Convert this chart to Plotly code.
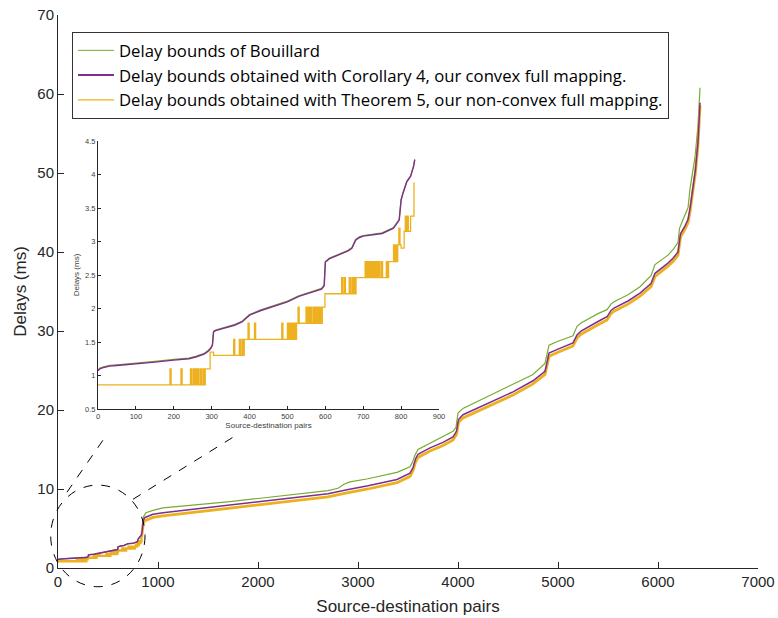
import plotly.graph_objects as go

# ---------------- data ----------------
# Delay bounds, Corollary 4 (convex full mapping) - purple
purple_x = [0, 5, 15, 30, 50, 100, 150, 200, 240, 260, 280, 290, 297, 302, 305, 310, 330, 360, 380, 400,
            430, 460, 500, 530, 560, 590, 597, 600, 610, 630, 660, 670, 680, 690, 700, 750, 780, 795, 800,
            805, 815, 825, 830, 833, 836,
            845, 852, 870, 950, 1050, 1400, 1720, 2000, 2390, 2700, 2890, 3100, 3390, 3520, 3550, 3575,
            3600, 3720, 3850, 3950, 3985, 4005, 4050, 4300, 4550, 4750, 4870, 4890, 4910, 5000, 5150, 5190,
            5230, 5400, 5490, 5530, 5560, 5700, 5820, 5930, 5950, 5970, 6100, 6150, 6200, 6225, 6270, 6300,
            6320, 6345, 6375, 6400, 6420]
purple_y = [1.07, 1.10, 1.12, 1.14, 1.15, 1.17, 1.20, 1.23, 1.25, 1.28, 1.32, 1.36, 1.40, 1.45, 1.65, 1.67,
            1.70, 1.75, 1.80, 1.90, 1.97, 2.03, 2.10, 2.18, 2.23, 2.29, 2.34, 2.69, 2.74, 2.79, 2.86, 2.90,
            3.02, 3.06, 3.08, 3.12, 3.20, 3.32, 3.62, 3.72, 3.89, 3.97, 4.05, 4.12, 4.22,
            5.0, 6.0, 6.4, 6.8, 7.0, 7.5, 8.0, 8.4, 9.0, 9.4, 9.9, 10.4, 11.2, 12.0, 12.7, 13.8,
            14.4, 15.2, 15.9, 16.6, 17.3, 18.8, 19.4, 20.8, 22.3, 23.7, 24.9, 26.0, 27.2, 27.7, 28.5, 29.5,
            30.0, 31.2, 31.8, 32.6, 32.9, 33.8, 34.8, 36.0, 36.6, 37.3, 38.6, 39.2, 40.0, 42.3, 43.3, 44.1,
            45.5, 47.6, 50.5, 54.0, 58.9]

# Delay bounds of Bouillard - green
green_x = [0, 5, 15, 30, 50, 100, 150, 200, 240, 260, 280, 290, 297, 302, 305, 310, 330, 360, 380, 400,
           430, 460, 500, 530, 560, 590, 597, 600, 610, 630, 660, 670, 680, 690, 700, 750, 780, 795, 800,
           805, 815, 825, 830, 833, 836,
           845, 855, 880, 950, 1050, 1400, 1720, 2000, 2390, 2700, 2800, 2860, 2920, 3100, 3390, 3520,
           3545, 3570, 3600, 3720, 3850, 3950, 3980, 4000, 4050, 4300, 4550, 4750, 4870, 4890, 4910, 5000,
           5150, 5190, 5230, 5400, 5490, 5530, 5560, 5700, 5820, 5930, 5950, 5970, 6100, 6150, 6200, 6215,
           6260, 6300, 6320, 6340, 6370, 6400, 6420]
green_y = [1.08, 1.11, 1.13, 1.15, 1.16, 1.18, 1.21, 1.24, 1.26, 1.29, 1.33, 1.37, 1.41, 1.46, 1.66, 1.68,
           1.71, 1.76, 1.81, 1.91, 1.98, 2.04, 2.11, 2.19, 2.24, 2.30, 2.35, 2.70, 2.75, 2.80, 2.87, 2.91,
           3.03, 3.07, 3.09, 3.13, 3.21, 3.33, 3.63, 3.73, 3.90, 3.98, 4.06, 4.13, 4.23,
           5.5, 6.5, 7.0, 7.3, 7.6, 8.0, 8.4, 8.8, 9.4, 9.8, 10.1, 10.6, 10.9, 11.3, 12.1, 12.8,
           13.4, 14.3, 15.0, 15.8, 16.6, 17.3, 17.8, 19.6, 20.2, 21.7, 23.2, 24.5, 25.9, 27.3, 28.2, 28.7,
           29.4, 30.6, 31.0, 32.2, 32.7, 33.4, 33.7, 34.6, 35.6, 37.0, 37.8, 38.4, 39.6, 40.3, 41.2, 43.0,
           44.4, 45.6, 48.0, 49.5, 52.0, 56.0, 60.8]

# Delay bounds, Theorem 5 (non-convex full mapping) - orange
# first part: step-wise values (x <= 836); second part: smooth continuation
orange_step_x = [0, 190, 193, 219, 222, 244, 247, 251, 254, 257, 260, 263, 266, 270, 273, 277, 280, 283, 296,
                 305, 358, 361, 373, 376, 380, 383, 386, 396, 399, 413, 416, 485, 488, 500, 503, 506, 509, 512,
                 515, 518, 521, 524, 528, 531, 549, 552, 555, 558, 561, 564, 568, 571, 574, 577, 580, 583, 586,
                 589, 592, 599, 643, 646, 650, 653, 663, 666, 670, 673, 676, 679, 681, 705, 708, 711, 714, 717,
                 720, 723, 726, 729, 732, 735, 738, 741, 744, 748, 751, 761, 764, 767, 780, 783, 786, 789, 791,
                 794, 797, 800, 808, 811, 813, 816, 819, 825, 834, 836]
orange_step_y = [0.86, 1.10, 0.86, 1.10, 0.86, 1.10, 0.86, 1.10, 0.86, 1.10, 0.86, 1.10, 0.86, 1.10, 0.86, 1.10,
                 0.86, 1.10, 1.35, 1.30, 1.54, 1.30, 1.54, 1.30, 1.54, 1.30, 1.54, 1.78, 1.54, 1.78, 1.54, 1.78,
                 1.54, 1.78, 1.54, 1.78, 1.54, 1.78, 1.54, 1.78, 1.54, 1.78, 2.02, 1.78, 2.02, 1.78, 2.02, 1.78,
                 2.02, 1.78, 2.02, 1.78, 2.02, 1.78, 2.02, 1.78, 2.02, 1.78, 2.02, 2.22, 2.46, 2.22, 2.46, 2.22,
                 2.46, 2.22, 2.46, 2.22, 2.46, 2.22, 2.46, 2.70, 2.46, 2.70, 2.46, 2.70, 2.46, 2.70, 2.46, 2.70,
                 2.46, 2.70, 2.46, 2.70, 2.46, 2.70, 2.46, 2.70, 2.46, 2.70, 2.95, 2.70, 2.95, 2.70, 2.95, 3.20,
                 2.95, 2.90, 3.15, 3.38, 3.15, 3.38, 3.15, 3.38, 3.87, 3.87]
orange_rest_x = [836, 845, 852, 870, 950, 1050, 1400, 1720, 2000, 2390, 2700, 2890, 3100, 3390, 3520, 3550,
                 3575, 3600, 3720, 3850, 3950, 3985, 4005, 4050, 4300, 4550, 4750, 4870, 4890, 4910, 5000,
                 5150, 5190, 5230, 5400, 5490, 5530, 5560, 5700, 5820, 5930, 5950, 5970, 6100, 6150, 6200,
                 6225, 6270, 6300, 6320, 6345, 6375, 6400, 6420]
orange_rest_y = [3.87, 4.6, 5.6, 6.0, 6.4, 6.6, 7.1, 7.6, 8.0, 8.6, 9.0, 9.5, 10.0, 10.8, 11.6, 12.3,
                 13.4, 14.0, 14.8, 15.5, 16.2, 16.9, 18.4, 19.0, 20.4, 21.9, 23.3, 24.5, 25.6, 26.8, 27.3,
                 28.1, 29.1, 29.6, 30.8, 31.4, 32.2, 32.5, 33.4, 34.4, 35.6, 36.2, 36.9, 38.2, 38.8, 39.6,
                 41.9, 42.9, 43.7, 45.1, 47.2, 50.1, 53.6, 58.6]

series_names = ["Delay bounds of Bouillard",
                "Delay bounds obtained with Corollary 4, our convex full mapping.",
                "Delay bounds obtained with Theorem 5, our non-convex full mapping."]
main_x_ticks = [0, 1000, 2000, 3000, 4000, 5000, 6000, 7000]
main_y_ticks = [0, 10, 20, 30, 40, 50, 60, 70]
inset_x_ticks = [0, 100, 200, 300, 400, 500, 600, 700, 800, 900]
inset_y_ticks = [0.5, 1, 1.5, 2, 2.5, 3, 3.5, 4, 4.5]
inset_limit = 840

GREEN = "#77AC30"
PURPLE = "#7E2F8E"
ORANGE = "#EDB120"
AXC = "#262626"

fig = go.Figure()

# legend entries (thin line samples as in the reference legend)
fig.add_trace(go.Scatter(x=[None], y=[None], mode="lines", name=series_names[0],
                         line=dict(color=GREEN, width=1)))
fig.add_trace(go.Scatter(x=[None], y=[None], mode="lines", name=series_names[1],
                         line=dict(color=PURPLE, width=2)))
fig.add_trace(go.Scatter(x=[None], y=[None], mode="lines", name=series_names[2],
                         line=dict(color=ORANGE, width=1.2)))

# main chart
fig.add_trace(go.Scatter(x=green_x, y=green_y, mode="lines", showlegend=False,
                         line=dict(color=GREEN, width=1.2)))
fig.add_trace(go.Scatter(x=orange_step_x, y=orange_step_y, mode="lines", showlegend=False,
                         line=dict(color=ORANGE, width=2.4, shape="hv")))
fig.add_trace(go.Scatter(x=orange_rest_x, y=orange_rest_y, mode="lines", showlegend=False,
                         line=dict(color=ORANGE, width=2.8)))
fig.add_trace(go.Scatter(x=purple_x, y=purple_y, mode="lines", showlegend=False,
                         line=dict(color=PURPLE, width=1.5)))

# inset (first source-destination pairs)
def head(xs, ys):
    return [x for x in xs if x <= inset_limit], [y for x, y in zip(xs, ys) if x <= inset_limit]

gx, gy = head(green_x, green_y)
px, py = head(purple_x, purple_y)
fig.add_trace(go.Scatter(x=gx, y=gy, mode="lines", xaxis="x2", yaxis="y2", showlegend=False,
                         line=dict(color=GREEN, width=1.2)))
fig.add_trace(go.Scatter(x=px, y=py, mode="lines", xaxis="x2", yaxis="y2", showlegend=False,
                         line=dict(color=PURPLE, width=1.4)))
fig.add_trace(go.Scatter(x=orange_step_x, y=orange_step_y, mode="lines", xaxis="x2", yaxis="y2",
                         showlegend=False, line=dict(color=ORANGE, width=1.3, shape="hv")))

# geometry helpers: main-axis data -> paper coords (so decorations are not clipped)
XR = [0, 7000]
YR = [0, 70]
def xp(v):
    return (v - XR[0]) / (XR[1] - XR[0])
def yp(v):
    return (v - YR[0]) / (YR[1] - YR[0])

shapes = [
    dict(type="circle", xref="paper", yref="paper", x0=xp(-73), x1=xp(870), y0=yp(-2.37), y1=yp(10.5),
         line=dict(color="black", width=1, dash="dash"), layer="above"),
    dict(type="line", xref="paper", yref="paper", x0=xp(90), y0=yp(9.6), x1=xp(500), y1=yp(17.1),
         line=dict(color="black", width=1, dash="dash")),
    dict(type="line", xref="paper", yref="paper", x0=xp(750), y0=yp(8.7), x1=xp(1820), y1=yp(17.1),
         line=dict(color="black", width=1, dash="dash")),
]

fig.update_layout(
    width=778, height=618,
    margin=dict(l=58, r=20, t=15, b=50),
    paper_bgcolor="white", plot_bgcolor="white",
    font=dict(family="Liberation Sans, Arial, sans-serif", color=AXC),
    shapes=shapes,
    xaxis=dict(range=XR, tickvals=main_x_ticks, ticks="inside", ticklen=6, tickcolor=AXC,
               showline=True, linecolor=AXC, linewidth=1, showgrid=False, zeroline=False,
               automargin=False, tickfont=dict(size=15, color=AXC),
               title=dict(text="Source-destination pairs", font=dict(size=17, color=AXC), standoff=11)),
    yaxis=dict(range=YR, tickvals=main_y_ticks, ticks="inside", ticklen=6, tickcolor=AXC,
               showline=True, linecolor=AXC, linewidth=1, showgrid=False, zeroline=False,
               automargin=False, tickfont=dict(size=15, color=AXC),
               title=dict(text="Delays (ms)", font=dict(size=17, color=AXC), standoff=6)),
    xaxis2=dict(domain=[40 / 700, 381 / 700], anchor="y2", range=[0, 900], tickvals=inset_x_ticks,
                ticks="inside", ticklen=3, tickcolor=AXC, showline=True, linecolor=AXC, linewidth=1,
                showgrid=False, zeroline=False, automargin=False, tickfont=dict(size=7.5, color="#404040"),
                title=dict(text="Source-destination pairs", font=dict(size=8, color="#404040"), standoff=2)),
    yaxis2=dict(domain=[159 / 553, 427 / 553], anchor="x2", range=[0.5, 4.5], tickvals=inset_y_ticks,
                ticks="inside", ticklen=3, tickcolor=AXC, showline=True, linecolor=AXC, linewidth=1,
                showgrid=False, zeroline=False, automargin=False, tickfont=dict(size=7.5, color="#404040"),
                title=dict(text="Delays (ms)", font=dict(size=8, color="#404040"), standoff=4)),
    legend=dict(x=14 / 700, y=536 / 553, xanchor="left", yanchor="top",
                bgcolor="white", bordercolor="#333333", borderwidth=1,
                font=dict(family="Open Sans, sans-serif", size=16.7, color="black"),
                tracegroupgap=0, itemwidth=36),
    showlegend=True,
)

# remove the default page margin so the figure sits at the window's top-left corner
fig.write_html("out.html", config={"displayModeBar": False},
               post_script="document.body.style.margin='0';")
